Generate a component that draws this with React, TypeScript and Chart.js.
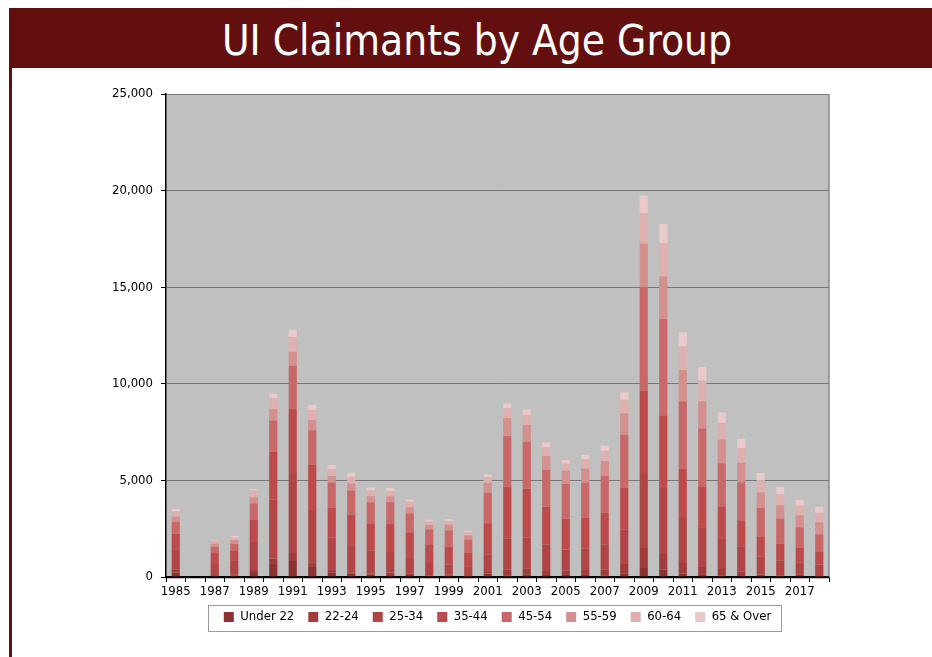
import React, { useEffect, useRef } from "react";
import { Chart, registerables } from "chart.js";

Chart.register(...registerables);

const FONT = "'DejaVu Sans Condensed', 'Liberation Sans', Arial, sans-serif";

const years = [
  "1985", "1986", "1987", "1988", "1989", "1990", "1991", "1992", "1993", "1994",
  "1995", "1996", "1997", "1998", "1999", "2000", "2001", "2002", "2003", "2004",
  "2005", "2006", "2007", "2008", "2009", "2010", "2011", "2012", "2013", "2014",
  "2015", "2016", "2017", "2018",
];

const seriesNames = ["Under 22", "22-24", "25-34", "35-44", "45-54", "55-59", "60-64", "65 & Over"];
const seriesColors = ["#8C3232", "#A23C3C", "#B14444", "#BE4B4B", "#C96868", "#D48F8F", "#DEB0B0", "#E9C9C9"];

const under22 = [240, null, 50, 70, 260, 670, 830, 520, 225, 170, 120, 100, 100, 35, 70, 20, 180, 85, 140, 105, 105, 105, 85, 190, 465, 380, 170, 105, 85, 50, 35, 35, 35, 15];
const age22to24 = [160, null, 50, 70, 155, 280, 410, 240, 175, 80, 50, 120, 70, 35, 50, 20, 80, 295, 310, 205, 240, 260, 295, 485, 1035, 810, 555, 415, 330, 245, 85, 50, 70, 20];
const age25to34 = [1040, null, 620, 690, 1400, 3070, 4140, 2710, 1640, 1400, 1210, 1120, 860, 655, 535, 480, 920, 1620, 1605, 1380, 1070, 1120, 1310, 1795, 3880, 3415, 2330, 2020, 1555, 1295, 950, 775, 655, 605];
const age35to44 = [800, null, 520, 550, 1140, 2470, 3310, 2350, 1550, 1590, 1400, 1400, 1280, 930, 930, 725, 1605, 2675, 2520, 1950, 1605, 1590, 1640, 2155, 4280, 3760, 2535, 2155, 1690, 1345, 1035, 865, 740, 690];
const age45to54 = [620, null, 330, 345, 860, 1620, 2240, 1780, 1290, 1240, 1090, 1140, 980, 810, 830, 690, 1570, 2620, 2430, 1915, 1795, 1810, 1915, 2745, 5350, 5005, 3505, 3000, 2225, 1965, 1465, 1295, 1070, 880];
const age55to59 = [270, null, 155, 190, 310, 570, 730, 520, 345, 360, 310, 290, 310, 225, 290, 225, 520, 930, 865, 710, 690, 725, 760, 1090, 2245, 2190, 1620, 1400, 1225, 1020, 810, 690, 620, 620];
const age60to64 = [270, null, 155, 120, 345, 570, 760, 520, 345, 345, 290, 280, 290, 175, 190, 155, 285, 500, 515, 465, 360, 485, 520, 710, 1585, 1725, 1225, 1070, 865, 760, 605, 570, 500, 485];
const age65plus = [120, null, 50, 90, 90, 240, 380, 270, 225, 210, 160, 160, 120, 100, 90, 85, 155, 260, 295, 240, 190, 225, 275, 395, 900, 1000, 725, 705, 550, 480, 395, 380, 310, 310];

const seriesValues = [under22, age22to24, age25to34, age35to44, age45to54, age55to59, age60to64, age65plus];

const yTicksMax = 25000;
const yTickStep = 5000;

const plotDecor = {
  id: "plotDecor",
  beforeDraw(chart: any) {
    const { ctx, chartArea } = chart;
    if (!chartArea) return;
    const { left, top, right, bottom } = chartArea;
    ctx.save();
    ctx.fillStyle = "#C0C0C0";
    ctx.fillRect(left, top, right - left, bottom - top);
    ctx.restore();
  },
  afterDatasetsDraw(chart: any) {
    const { ctx, chartArea } = chart;
    const { left, top, right, bottom } = chartArea;
    ctx.save();
    ctx.strokeStyle = "#8A8A8A";
    ctx.lineWidth = 1.5;
    ctx.beginPath();
    ctx.moveTo(right, top);
    ctx.lineTo(right, bottom);
    ctx.stroke();
    ctx.strokeStyle = "#000000";
    ctx.lineWidth = 1.5;
    ctx.beginPath();
    ctx.moveTo(left - 0.5, bottom + 0.5);
    ctx.lineTo(right, bottom + 0.5);
    ctx.stroke();
    ctx.restore();
  },
  afterDraw(chart: any) {
    const legend = chart.legend;
    if (!legend || !legend.legendHitBoxes || !legend.legendHitBoxes.length) return;
    const boxes = legend.legendHitBoxes;
    let minL = Infinity;
    let maxR = -Infinity;
    const topY = boxes[0].top;
    const h = boxes[0].height;
    for (const b of boxes) {
      minL = Math.min(minL, b.left);
      maxR = Math.max(maxR, b.left + b.width);
    }
    const cy = topY + h / 2;
    const { ctx } = chart;
    ctx.save();
    ctx.strokeStyle = "#9A9A9A";
    ctx.lineWidth = 1;
    ctx.strokeRect(Math.round(minL - 16) + 0.5, Math.round(cy - 12) + 0.5, Math.round(maxR - minL + 26), 26);
    ctx.restore();
  },
};

function ClaimantsChart() {
  const canvasRef = useRef<HTMLCanvasElement | null>(null);

  useEffect(() => {
    if (!canvasRef.current) return;
    const chart = new Chart(canvasRef.current, {
      type: "bar",
      data: {
        labels: years,
        datasets: seriesNames.map((name, i) => ({
          label: name,
          data: seriesValues[i],
          backgroundColor: seriesColors[i],
          borderWidth: 0,
          barPercentage: 0.42,
          categoryPercentage: 1,
        })),
      },
      options: {
        animation: false,
        responsive: true,
        maintainAspectRatio: false,
        layout: { padding: { left: 0, right: 103, top: 24, bottom: 23.5 } },
        plugins: {
          tooltip: { enabled: false },
          title: { display: false },
          legend: {
            position: "bottom",
            fullSize: false,
            labels: {
              boxWidth: 10,
              boxHeight: 10,
              padding: 14,
              color: "#000000",
              font: { family: FONT, size: 13 },
            },
          },
        },
        scales: {
          x: {
            stacked: true,
            offset: true,
            afterFit(scale: any) {
              scale.height = 19.5;
            },
            grid: {
              offset: true,
              drawOnChartArea: false,
              drawTicks: true,
              tickLength: 5,
              tickColor: "#000000",
            },
            border: { display: true, color: "#000000", width: 1.5 },
            ticks: {
              autoSkip: false,
              maxRotation: 0,
              minRotation: 0,
              padding: 2,
              color: "#000000",
              font: { family: FONT, size: 13 },
              callback: (_v: any, idx: number) => (idx % 2 === 0 ? years[idx] : ""),
            },
          },
          y: {
            stacked: true,
            min: 0,
            max: yTicksMax,
            afterFit(scale: any) {
              scale.width = 166;
            },
            grid: {
              color: "#767676",
              lineWidth: 1,
              drawTicks: true,
              tickLength: 5,
              tickColor: "#000000",
            },
            border: { display: true, color: "#000000", width: 1.5 },
            ticks: {
              stepSize: yTickStep,
              padding: 8,
              color: "#000000",
              font: { family: FONT, size: 13 },
              callback: (v: any) => Number(v).toLocaleString("en-US"),
            },
          },
        },
      },
      plugins: [plotDecor],
    });
    return () => chart.destroy();
  }, []);

  return (
    <div style={{ position: "absolute", left: 0, top: 70, width: 932, height: 587 }}>
      <canvas ref={canvasRef} />
    </div>
  );
}

export default function App() {
  return (
    <div
      style={{
        position: "fixed",
        left: 0,
        top: 0,
        width: 932,
        height: 657,
        overflow: "hidden",
        background: "#ffffff",
      }}
    >
      <div style={{ position: "absolute", left: 9, top: 8, width: 923, height: 60, background: "#640F0F" }} />
      <div style={{ position: "absolute", left: 9, top: 68, width: 2.5, height: 589, background: "#640F0F" }} />
      <div
        style={{
          position: "absolute",
          left: 177,
          top: 20,
          width: 600,
          textAlign: "center",
          color: "#ffffff",
          fontFamily: FONT,
          fontSize: 42,
          lineHeight: "42px",
          whiteSpace: "nowrap",
        }}
      >
        UI Claimants by Age Group
      </div>
      <ClaimantsChart />
    </div>
  );
}
